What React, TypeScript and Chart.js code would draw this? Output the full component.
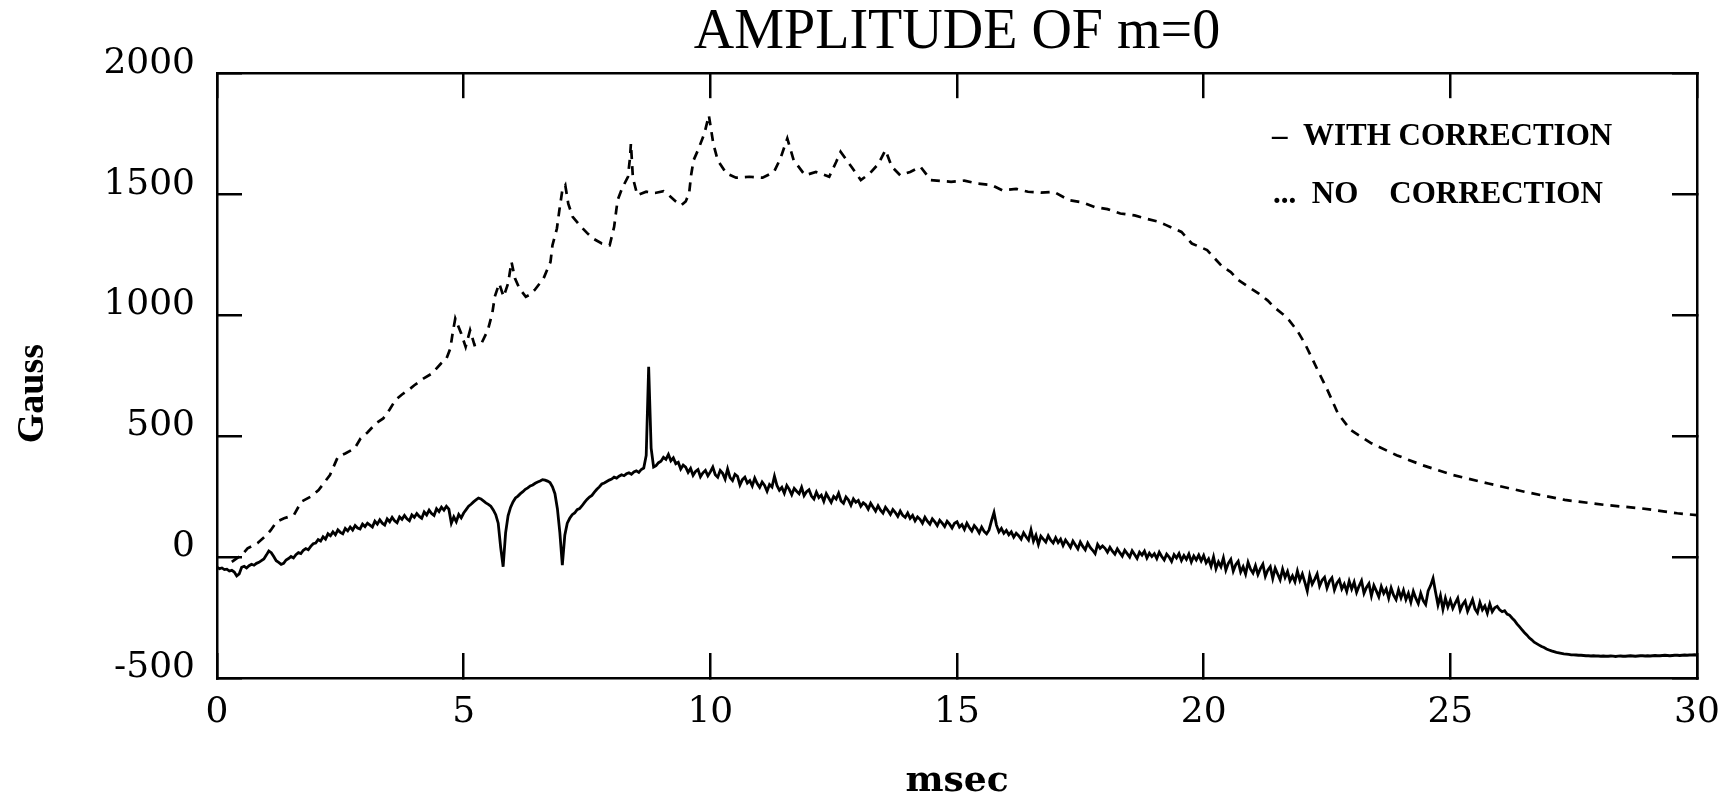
import { useEffect, useRef } from 'react';
import { Chart, registerables } from 'chart.js';

Chart.register(...registerables);

const TITLE = 'AMPLITUDE OF m=0';
const X_TITLE = 'msec';
const Y_TITLE = 'Gauss';
const LEGEND_WITH = '\u2013  WITH CORRECTION';
const LEGEND_NO = '...  NO    CORRECTION';

const X_MIN = 0;
const X_MAX = 30;
const X_STEP = 5;
const Y_MIN = -500;
const Y_MAX = 2000;
const Y_STEP = 500;

// "WITH CORRECTION" sampled every 0.05 msec from 0 to 30 msec
const SOLID_T0 = 0;
const SOLID_DT = 0.05;
const withCorrection = [
  -42, -48, -45, -52, -50, -58, -55, -62, -78, -70, -42, -38, -45, -36, -30, -34, -26, -22, -15, -8,
  8, 25, 18, 2, -15, -22, -30, -26, -12, -6, 2, -4, 10, 18, 14, 28, 35, 30, 44, 55,
  58, 72, 66, 84, 74, 96, 88, 104, 92, 112, 102, 96, 118, 108, 124, 112, 130, 120, 116, 136,
  126, 140, 132, 124, 148, 136, 154, 140, 132, 158, 146, 164, 150, 142, 166, 156, 172, 158, 150, 174,
  164, 180, 168, 160, 186, 174, 194, 180, 172, 200, 188, 206, 194, 210, 198, 140, 166, 146, 176, 162,
  182, 196, 210, 218, 228, 236, 244, 240, 232, 224, 218, 210, 195, 175, 140, 40, -40, 100, 170, 205,
  228, 244, 252, 262, 270, 280, 286, 294, 298, 305, 310, 314, 320, 318, 314, 308, 290, 262, 200, 100,
  -33, 90, 140, 160, 175, 182, 196, 200, 212, 226, 238, 248, 255, 268, 280, 290, 302, 306, 312, 318,
  322, 330, 326, 334, 340, 336, 344, 348, 342, 352, 356, 350, 362, 368, 420, 786, 450, 372, 378, 390,
  396, 412, 404, 424, 398, 410, 386, 392, 364, 380, 372, 350, 366, 338, 354, 362, 332, 348, 358, 336,
  352, 372, 340, 330, 358, 346, 322, 364, 328, 316, 342, 334, 298, 320, 330, 306, 316, 294, 326, 304,
  288, 310, 296, 272, 300, 290, 334, 296, 276, 288, 264, 296, 280, 258, 284, 272, 262, 288, 254, 270,
  278, 252, 240, 268, 246, 256, 230, 262, 244, 226, 250, 240, 264, 232, 222, 248, 236, 214, 240, 226,
  234, 210, 224, 216, 198, 222, 206, 190, 212, 194, 182, 206, 192, 176, 196, 184, 168, 190, 172, 164,
  182, 160, 172, 150, 166, 156, 140, 164, 148, 136, 158, 146, 130, 152, 140, 126, 148, 136, 120, 140,
  146, 124, 134, 114, 140, 122, 108, 130, 118, 100, 124, 106, 96, 112, 150, 184, 132, 104, 118, 98,
  110, 92, 104, 82, 98, 88, 74, 100, 84, 70, 112, 66, 90, 52, 86, 74, 62, 88, 70, 58,
  80, 60, 74, 48, 70, 56, 40, 66, 50, 34, 62, 44, 30, 58, 40, 28, 14, 52, 36, 46,
  36, 20, 40, 24, 12, 34, 18, 4, 28, 14, 0, 26, 10, -6, 20, 8, 24, -4, 16, 2,
  14, -6, 20, 2, -12, 12, 0, -18, 10, -4, 14, -14, 6, -10, 12, -20, 4, -12, 8, -16,
  6, -24, -8, -38, 0, -48, -20, -40, -4, -54, -26, -10, -58, -32, -18, -62, -40, -70, -22, -50,
  -66, -36, -72, -48, -30, -80, -54, -40, -88, -46, -70, -94, -50, -84, -60, -98, -78, -102, -58, -96,
  -70, -104, -140, -76, -112, -92, -70, -120, -96, -84, -128, -100, -86, -136, -108, -94, -132, -112, -142, -100,
  -132, -104, -146, -120, -98, -150, -126, -110, -160, -118, -140, -164, -122, -150, -132, -170, -128, -158, -176, -136,
  -168, -138, -176, -150, -186, -142, -170, -192, -150, -180, -196, -140, -118, -88, -144, -198, -160, -216, -170, -206,
  -178, -212, -190, -170, -220, -196, -182, -224, -200, -176, -214, -230, -188, -218, -202, -232, -194, -226, -210, -204,
  -218, -226, -222, -236, -240, -252, -262, -276, -288, -300, -312, -322, -334, -342, -352, -358, -364, -370, -374, -380,
  -384, -388, -391, -394, -396, -398, -400, -401, -402, -404, -404, -405, -406, -406, -407, -408, -408, -409, -408, -409,
  -409, -410, -409, -410, -410, -409, -410, -411, -410, -409, -410, -410, -409, -408, -409, -410, -409, -408, -408, -409,
  -408, -409, -408, -407, -408, -408, -407, -406, -407, -408, -407, -406, -406, -407, -406, -405, -406, -405, -405, -404, -405,
];

// "NO CORRECTION" sample times (msec) and values (Gauss)
const noCorrectionT = [
  0.3, 0.51, 0.62, 0.82, 1.0, 1.09, 1.21, 1.36, 1.56, 1.71, 1.9, 2.06, 2.29, 2.45, 2.6, 2.79, 2.91, 3.05, 3.22, 3.37,
  3.5, 3.62, 3.75, 3.88, 4.0, 4.2, 4.36, 4.54, 4.65, 4.73, 4.78, 4.83, 4.88, 4.95, 5.04, 5.13, 5.22, 5.36, 5.49, 5.58,
  5.63, 5.72, 5.81, 5.9, 5.97, 6.04, 6.13, 6.26, 6.35, 6.44, 6.62, 6.76, 6.8, 6.89, 6.94, 7.0, 7.06, 7.12, 7.21, 7.35,
  7.5, 7.62, 7.8, 7.96, 8.05, 8.12, 8.21, 8.33, 8.37, 8.39, 8.43, 8.52, 8.7, 8.88, 9.05, 9.16, 9.3, 9.41, 9.5, 9.57,
  9.61, 9.66, 9.75, 9.88, 9.97, 10.06, 10.15, 10.33, 10.52, 10.79, 11.06, 11.29, 11.42, 11.56, 11.69, 11.92, 12.14, 12.41, 12.55, 12.64,
  12.86, 13.05, 13.23, 13.41, 13.55, 13.68, 13.85, 14.05, 14.26, 14.47, 14.88, 15.15, 15.4, 15.7, 15.92, 16.2, 16.44, 16.7, 16.96, 17.27,
  17.55, 17.79, 18.05, 18.31, 18.6, 18.83, 19.05, 19.24, 19.55, 19.76, 20.07, 20.2, 20.38, 20.55, 20.7, 20.9, 21.11, 21.3, 21.42, 21.6,
  21.73, 21.9, 22.05, 22.2, 22.31, 22.51, 22.72, 22.98, 23.4, 23.91, 24.43, 25.05, 25.77, 26.5, 27.32, 28.15, 28.88, 29.6, 30.0,
];
const noCorrectionV = [
  -20, 10, 36, 57, 90, 111, 146, 160, 174, 229, 250, 277, 339, 414, 428, 449, 490, 515, 552, 573,
  610, 650, 672, 690, 710, 740, 759, 800, 820, 862, 930, 986, 960, 924, 869, 938, 876, 883, 938, 1007,
  1076, 1131, 1076, 1131, 1220, 1152, 1110, 1076, 1085, 1104, 1152, 1220, 1289, 1358, 1434, 1516, 1537, 1461, 1406, 1372,
  1340, 1317, 1296, 1289, 1365, 1475, 1523, 1572, 1647, 1709, 1568, 1496, 1510, 1505, 1512, 1496, 1470, 1454, 1470, 1503,
  1578, 1640, 1682, 1751, 1826, 1709, 1640, 1585, 1568, 1572, 1568, 1592, 1647, 1730, 1640, 1578, 1592, 1572, 1633, 1675,
  1613, 1558, 1585, 1626, 1682, 1613, 1578, 1592, 1613, 1558, 1551, 1556, 1544, 1538, 1516, 1522, 1510, 1506, 1510, 1475,
  1466, 1447, 1438, 1420, 1412, 1399, 1388, 1372, 1344, 1296, 1269, 1240, 1200, 1178, 1145, 1118, 1090, 1060, 1034, 1005,
  979, 935, 883, 820, 773, 690, 594, 525, 470, 421, 380, 339, 304, 270, 236, 215, 201, 181, 173,
];

const BLACK = '#000000';

export default function App() {
  const canvasRef = useRef<HTMLCanvasElement | null>(null);

  useEffect(() => {
    document.body.style.margin = '0';
    document.body.style.overflow = 'hidden';
    const canvas = canvasRef.current;
    if (!canvas) return;

    const annotations = {
      id: 'annotations',
      afterDraw(chart: any) {
        const { ctx, chartArea } = chart;
        ctx.save();
        ctx.fillStyle = BLACK;
        ctx.textAlign = 'left';
        ctx.textBaseline = 'middle';
        ctx.font = 'bold 31px "Liberation Serif"';
        const x = chartArea.right - 425;
        ctx.fillText(LEGEND_WITH, x, chartArea.top + 64);
        ctx.fillText(LEGEND_NO, x + 1, chartArea.top + 122);
        ctx.restore();

        // vertical axis title
        ctx.save();
        ctx.fillStyle = BLACK;
        ctx.font = 'bold 38px "Liberation Serif"';
        ctx.textAlign = 'center';
        ctx.textBaseline = 'middle';
        ctx.translate(33, (chartArea.top + chartArea.bottom) / 2 + 18);
        ctx.rotate(-Math.PI / 2);
        ctx.fillText(Y_TITLE, 0, 0);
        ctx.restore();
      },
    };

    const solidData = withCorrection.map((v, i) => ({
      x: Math.round((SOLID_T0 + i * SOLID_DT) * 100) / 100,
      y: v,
    }));
    const dashData = noCorrectionT.map((t, i) => ({ x: t, y: noCorrectionV[i] }));

    const tickFont = { family: 'DejaVu Serif', size: 36, lineHeight: 1 };
    const gridOpts = {
      display: true,
      drawOnChartArea: false,
      drawTicks: true,
      tickLength: -25,
      color: BLACK,
      lineWidth: 2.5,
    };
    const borderOpts = { display: true, color: BLACK, width: 2.5 };
    const plainNumber = (v: any) => String(v);

    const chart = new Chart(canvas, {
      type: 'line',
      data: {
        datasets: [
          {
            label: 'WITH CORRECTION',
            data: solidData,
            borderColor: BLACK,
            backgroundColor: BLACK,
            borderWidth: 2.8,
            pointRadius: 0,
            tension: 0,
            fill: false,
          },
          {
            label: 'NO CORRECTION',
            data: dashData,
            borderColor: BLACK,
            backgroundColor: BLACK,
            borderWidth: 2.7,
            borderDash: [9, 7],
            pointRadius: 0,
            tension: 0,
            fill: false,
          },
        ],
      },
      options: {
        responsive: false,
        animation: false,
        devicePixelRatio: 1,
        layout: { padding: { left: 0, right: 0, top: 0, bottom: 0 } },
        plugins: {
          legend: { display: false },
          tooltip: { enabled: false },
          title: {
            display: true,
            text: TITLE,
            fullSize: false,
            color: BLACK,
            font: { family: 'Liberation Serif', size: 56, weight: 'normal', lineHeight: 1.2 },
            padding: { top: 0, bottom: 6 },
          },
        },
        scales: {
          x: {
            type: 'linear',
            position: 'bottom',
            min: X_MIN,
            max: X_MAX,
            ticks: {
              stepSize: X_STEP,
              autoSkip: false,
              maxRotation: 0,
              padding: 42,
              color: BLACK,
              font: tickFont,
              callback: plainNumber,
            },
            grid: gridOpts,
            border: borderOpts,
            title: {
              display: true,
              text: X_TITLE,
              color: BLACK,
              font: { family: 'DejaVu Serif', size: 36, weight: 'bold', lineHeight: 0.8 },
              padding: { top: 0, bottom: 0 },
            },
            afterFit: (s: any) => {
              s.height = 118;
              s.paddingLeft = 0;
              s.paddingRight = 0;
            },
          },
          x2: {
            type: 'linear',
            position: 'top',
            min: X_MIN,
            max: X_MAX,
            ticks: { stepSize: X_STEP, display: false },
            grid: gridOpts,
            border: borderOpts,
            afterFit: (s: any) => {
              s.height = 0;
              s.paddingLeft = 0;
              s.paddingRight = 0;
            },
          },
          y: {
            type: 'linear',
            position: 'left',
            min: Y_MIN,
            max: Y_MAX,
            ticks: {
              stepSize: Y_STEP,
              padding: 47,
              labelOffset: -10,
              color: BLACK,
              font: tickFont,
              callback: plainNumber,
            },
            grid: gridOpts,
            border: borderOpts,
            afterFit: (s: any) => {
              s.width = 217;
            },
          },
          y2: {
            type: 'linear',
            position: 'right',
            min: Y_MIN,
            max: Y_MAX,
            ticks: { stepSize: Y_STEP, display: false },
            grid: gridOpts,
            border: borderOpts,
            afterFit: (s: any) => {
              s.width = 38;
            },
          },
        },
      },
      plugins: [annotations],
    } as any);

    return () => {
      chart.destroy();
    };
  }, []);

  return (
    <div style={{ width: 1735, height: 796 }}>
      <canvas ref={canvasRef} width={1735} height={796} style={{ display: 'block' }} />
    </div>
  );
}
